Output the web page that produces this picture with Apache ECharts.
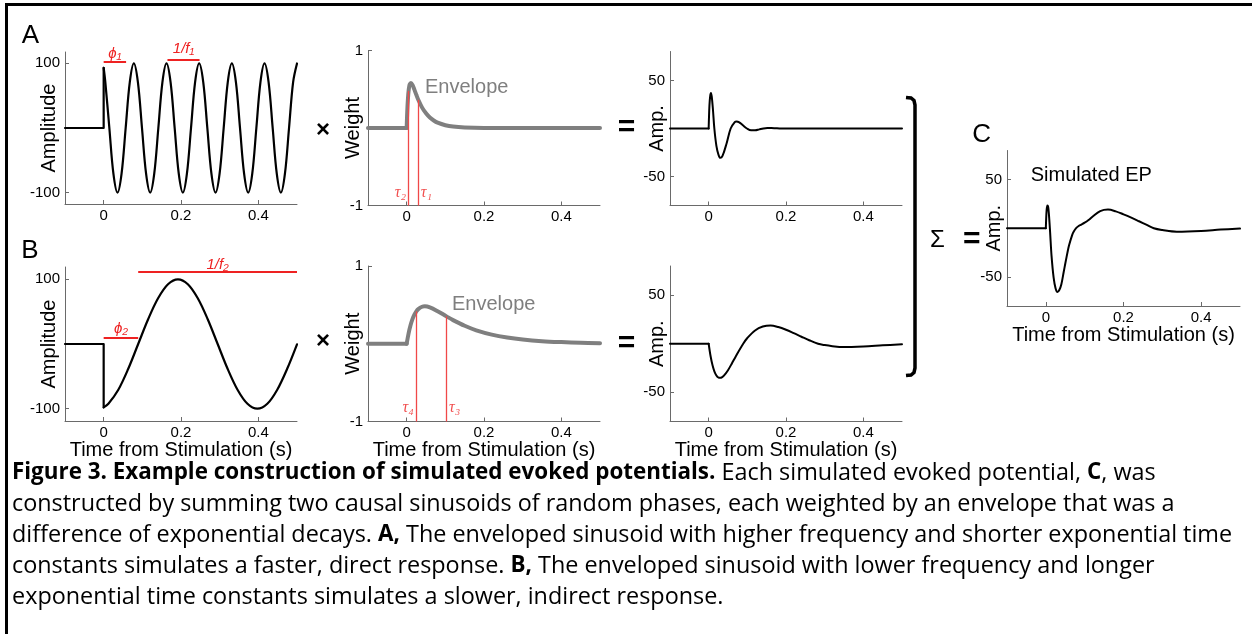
<!DOCTYPE html>
<html>
<head>
<meta charset="utf-8">
<style>
  html, body { margin: 0; padding: 0; background: #fff; }
  #chart { width: 1252px; height: 634px; }
</style>
<script src="https://cdn.jsdelivr.net/npm/echarts@6/dist/echarts.min.js"></script>
</head>
<body>
<div id="chart"></div>
<script>
// ---- values: [time (s), value] ----
const sineA = [[-0.1, 0], [0, 0], [0, 93], [0.0041, 72], [0.0147, 0], [0.0252, -70.7], [0.0358, -100],
  [0.0463, -70.7], [0.0569, 0], [0.0675, 70.7], [0.078, 100], [0.0886, 70.7], [0.0991, 0], [0.1097, -70.7],
  [0.1203, -100], [0.1308, -70.7], [0.1414, 0], [0.1519, 70.7], [0.1625, 100], [0.1731, 70.7], [0.1836, 0],
  [0.1942, -70.7], [0.2048, -100], [0.2153, -70.7], [0.2259, 0], [0.2364, 70.7], [0.247, 100], [0.2576, 70.7],
  [0.2681, 0], [0.2787, -70.7], [0.2893, -100], [0.2998, -70.7], [0.3104, 0], [0.3209, 70.7], [0.3315, 100],
  [0.3421, 70.7], [0.3526, 0], [0.3632, -70.7], [0.3738, -100], [0.3843, -70.7], [0.3949, 0], [0.4054, 70.7],
  [0.416, 100], [0.4266, 70.7], [0.4371, 0], [0.4477, -70.7], [0.4583, -100], [0.4688, -70.7], [0.4794, 0],
  [0.4899, 70.7], [0.5, 99.8]]
const envA = [[-0.1, 0], [0, 0], [0.002, 0.265], [0.004, 0.426], [0.005, 0.479], [0.006, 0.518], [0.008, 0.564],
  [0.011, 0.582], [0.015, 0.557], [0.02, 0.495], [0.025, 0.428], [0.03, 0.365], [0.04, 0.263], [0.05, 0.189],
  [0.06, 0.135], [0.07, 0.097], [0.08, 0.069], [0.1, 0.036], [0.12, 0.018], [0.15, 0.007], [0.2, 0.001],
  [0.3, 0], [0.5, 0]]
const prodA = [[-0.1, 0], [0, 0], [0.002, 24], [0.004, 34], [0.006, 37], [0.008, 33], [0.011, 20], [0.0147, 0],
  [0.02, -18], [0.0252, -27], [0.03, -30.5], [0.0358, -28.5], [0.0463, -15.5], [0.0569, 0], [0.0675, 6.6],
  [0.072, 7.2], [0.078, 6.7], [0.0886, 3.3], [0.0991, 0], [0.1097, -1.8], [0.1203, -1.8], [0.1308, -0.9],
  [0.1414, 0], [0.1519, 0.45], [0.1625, 0.44], [0.1731, 0.22], [0.1836, 0], [0.2048, -0.1], [0.25, 0], [0.5, 0]]

const sineB = [[-0.1, 0], [0, 0], [0, -97.9], [0.0122, -92.4], [0.0379, -70.7], [0.0636, -38.3], [0.0893, 0],
  [0.115, 38.3], [0.1407, 70.7], [0.1664, 92.4], [0.1921, 100], [0.2177, 92.4], [0.2434, 70.7], [0.2691, 38.3],
  [0.2948, 0], [0.3205, -38.3], [0.3462, -70.7], [0.3719, -92.4], [0.3975, -100], [0.4232, -92.4],
  [0.4489, -70.7], [0.4746, -38.3], [0.5, -0.5]]
const envB = [[-0.1, 0], [0, 0], [0.005, 0.134], [0.01, 0.237], [0.015, 0.316], [0.02, 0.374], [0.025, 0.417],
  [0.03, 0.446], [0.04, 0.476], [0.047, 0.481], [0.06, 0.468], [0.08, 0.419], [0.103, 0.352], [0.12, 0.304],
  [0.15, 0.231], [0.18, 0.173], [0.22, 0.118], [0.26, 0.08], [0.3, 0.054], [0.35, 0.033], [0.4, 0.021],
  [0.45, 0.013], [0.5, 0.008]]
const prodB = [[-0.1, 0], [0, 0], [0.005, -12.9], [0.01, -22.2], [0.015, -28.7], [0.02, -32.6], [0.025, -34.7],
  [0.03, -35.1], [0.035, -34.3], [0.04, -32.6], [0.05, -27.2], [0.06, -20.3], [0.07, -13], [0.0893, 0],
  [0.1, 5.9], [0.12, 13.7], [0.14, 17.7], [0.16, 18.8], [0.18, 17.2], [0.2, 14.4], [0.22, 10.9], [0.24, 7.2],
  [0.26, 3.6], [0.283, 0], [0.3, -1.4], [0.32, -2.5], [0.347, -3.4], [0.4, -2.8], [0.45, -1.6], [0.5, -0.5]]

const sumC = [[-0.1, 0], [0, 0], [0.002, 18.4], [0.004, 23.3], [0.006, 21.9], [0.008, 14], [0.011, -4],
  [0.0147, -28.5], [0.02, -50.6], [0.025, -61.7], [0.03, -65.6], [0.035, -63.3], [0.04, -57.6], [0.046, -45],
  [0.05, -36.5], [0.057, -22.4], [0.06, -17.2], [0.068, -6.8], [0.072, -3.4], [0.078, 0.1], [0.085, 2.4],
  [0.09, 3.5], [0.1, 5.7], [0.11, 8.5], [0.12, 11.9], [0.14, 17.6], [0.16, 19.2], [0.18, 17.4], [0.2, 14.3],
  [0.22, 10.9], [0.24, 7.2], [0.26, 3.4], [0.278, 0], [0.3, -1.8], [0.337, -3.5], [0.4, -2.8], [0.45, -1.4],
  [0.5, -0.3]]

// annotations (times in s)
const phaseA = [0, 0.058]
const periodA = [0.165, 0.248]
const phaseB = [0, 0.0893]
const periodB = [0.0893, 0.5]
const tauA = [0.005, 0.03]   // tau2, tau1
const tauB = [0.025, 0.103]  // tau4, tau3

const xTicks = [0, 0.2, 0.4]

const RED = '#ee2222'
const RED_THIN = '#f04848'
const GRAY = '#7f7f7f'
const AXIS = '#6a6a6a'
const FONT = 'Liberation Sans, Arial, Helvetica, sans-serif'

// pixel boxes of the seven small plots
const grids = [
  { left: 65, top: 52, width: 232, height: 152 },      // A amplitude
  { left: 368, top: 50.5, width: 232, height: 155 },   // A weight
  { left: 670, top: 51.5, width: 232, height: 154 },   // A amp.
  { left: 65, top: 267, width: 232, height: 154 },     // B amplitude
  { left: 368, top: 266, width: 232, height: 155.5 },  // B weight
  { left: 670, top: 266, width: 232, height: 155.5 },  // B amp.
  { left: 1007, top: 150.5, width: 233, height: 155.5 } // C
]

function xAxisFor(i, named) {
  return {
    type: 'value', gridIndex: i, min: -0.1, max: 0.5,
    axisLine: { show: true, onZero: false, lineStyle: { color: AXIS, width: 1 } },
    axisTick: { show: true, inside: true, length: 4, customValues: xTicks, lineStyle: { color: AXIS } },
    axisLabel: { show: true, customValues: xTicks, margin: 4, color: '#000', fontSize: 15, fontFamily: FONT },
    splitLine: { show: false },
    name: named ? 'Time from Stimulation (s)' : '',
    nameLocation: 'middle', nameGap: 19, nameMoveOverlap: false,
    nameTextStyle: { color: '#000', fontSize: 20, fontFamily: FONT }
  }
}

function yAxisFor(i, r, ticks, name, gap) {
  return {
    type: 'value', gridIndex: i, min: -r, max: r,
    axisLine: { show: true, onZero: false, lineStyle: { color: AXIS, width: 1 } },
    axisTick: { show: true, inside: true, length: 4, customValues: ticks, lineStyle: { color: AXIS } },
    axisLabel: { show: true, customValues: ticks, margin: 5, color: '#000', fontSize: 15, fontFamily: FONT },
    splitLine: { show: false },
    name: name, nameLocation: 'middle', nameRotate: 90, nameGap: gap, nameMoveOverlap: false,
    nameTextStyle: { color: '#000', fontSize: 20, fontFamily: FONT }
  }
}

// straight part up to the onset, smooth part after it
function curve(arr, gi, color, width, z) {
  let k = 0
  while (k + 1 < arr.length && arr[k + 1][0] <= 0) k++
  const base = {
    type: 'line', xAxisIndex: gi, yAxisIndex: gi, symbol: 'none', silent: true, z: z,
    lineStyle: { color: color, width: width, cap: 'round', join: 'round' }
  }
  return [
    Object.assign({}, base, { data: arr.slice(0, k + 1), smooth: false }),
    Object.assign({}, base, { data: arr.slice(k), smooth: 0.35 })
  ]
}

function at(arr, t) {
  const p = arr.find(d => d[0] === t)
  return p ? p[1] : 0
}

function bars(gi, items) {
  return {
    type: 'line', xAxisIndex: gi, yAxisIndex: gi, data: [], silent: true, z: 4,
    markLine: {
      silent: true, animation: false, symbol: ['none', 'none'],
      lineStyle: { color: RED, width: 2, type: 'solid' },
      label: { show: true, position: 'insideMiddleTop', distance: 2, color: RED,
        fontStyle: 'italic', fontFamily: FONT, fontSize: 15 },
      data: items.map(it => [
        { coord: [it.t[0], it.v], label: { formatter: it.text, distance: it.d } },
        { coord: [it.t[1], it.v] }
      ])
    }
  }
}

function taus(gi, env, t, names, v) {
  return {
    type: 'scatter', xAxisIndex: gi, yAxisIndex: gi, silent: true, z: 1, clip: false,
    symbolSize: 1, itemStyle: { color: 'rgba(0,0,0,0)' },
    label: { show: true, color: RED, fontFamily: 'Liberation Serif, Times New Roman, serif',
      fontStyle: 'italic', fontSize: 16, distance: 2 },
    data: [
      { value: [t[0], v], label: { position: 'left', formatter: names[0] } },
      { value: [t[1], v], label: { position: 'right', formatter: names[1] } }
    ],
    markLine: {
      silent: true, animation: false, symbol: ['none', 'none'],
      lineStyle: { color: RED_THIN, width: 1.3, type: 'solid' }, label: { show: false },
      data: t.map(tt => [{ coord: [tt, -1] }, { coord: [tt, at(env, tt)] }])
    }
  }
}

const series = [].concat(
  curve(sineA, 0, '#000', 2.2, 3),
  [bars(0, [{ t: phaseA, v: 102, text: 'ϕ₁', d: 1 }, { t: periodA, v: 105, text: '1/f₁', d: 4 }])],
  [taus(1, envA, tauA, ['τ₂', 'τ₁'], -0.84)],
  curve(envA, 1, GRAY, 4, 3),
  curve(prodA, 2, '#000', 2, 3),
  curve(sineB, 3, '#000', 2.2, 3),
  [bars(3, [{ t: phaseB, v: 10.4, text: 'ϕ₂', d: 1 }, { t: periodB, v: 111, text: '1/f₂', d: 0 }])],
  [taus(4, envB, tauB, ['τ₄', 'τ₃'], -0.82)],
  curve(envB, 4, GRAY, 4, 3),
  curve(prodB, 5, '#000', 2, 3),
  curve(sumC, 6, '#000', 2, 3)
)

function txt(x, y, text, size, opts) {
  return {
    type: 'text', x: x, y: y, silent: true,
    style: Object.assign({ text: text, fontSize: size, fontFamily: FONT, fill: '#000',
      align: 'center', verticalAlign: 'middle' }, opts || {})
  }
}

const CAP = 'Open Sans, Noto Sans, sans-serif'
const CAP_SIZE = 23.4
const capRich = { b: { fontWeight: 'bold', fontFamily: CAP, fontSize: 22.4, fill: '#000' } }
const captionLines = [
  '{b|Figure 3. Example construction of simulated evoked potentials.} Each simulated evoked potential, {b|C}, was',
  'constructed by summing two causal sinusoids of random phases, each weighted by an envelope that was a',
  'difference of exponential decays. {b|A,} The enveloped sinusoid with higher frequency and shorter exponential time',
  'constants simulates a faster, direct response. {b|B,} The enveloped sinusoid with lower frequency and longer',
  'exponential time constants simulates a slower, indirect response.'
]

const graphic = [
  { type: 'line', silent: true, shape: { x1: 5, y1: 4.5, x2: 1252, y2: 4.5 }, style: { stroke: '#000', lineWidth: 3 } },
  { type: 'line', silent: true, shape: { x1: 6.5, y1: 3, x2: 6.5, y2: 634 }, style: { stroke: '#000', lineWidth: 3 } },
  { type: 'polyline', silent: true,
    shape: { points: [[906, 97.5], [911, 98], [914, 100.5], [915, 105], [915, 368], [914, 372.5], [911, 375], [906, 375.5]] },
    style: { stroke: '#000', lineWidth: 3.5, fill: null } },
  txt(30.5, 36, 'A', 26),
  txt(30, 250.5, 'B', 26),
  txt(981.7, 135, 'C', 26),
  txt(323, 130.5, '×', 24, { fontWeight: 'bold' }),
  txt(323, 341, '×', 24, { fontWeight: 'bold' }),
  txt(626.5, 127.5, '=', 30, { fontWeight: 'bold' }),
  txt(626.5, 343.5, '=', 30, { fontWeight: 'bold' }),
  txt(937.5, 240, 'Σ', 24),
  txt(971.7, 240, '=', 30, { fontWeight: 'bold' }),
  txt(425, 87, 'Envelope', 20, { align: 'left', fill: GRAY }),
  txt(452, 304, 'Envelope', 20, { align: 'left', fill: GRAY }),
  txt(1030.7, 175, 'Simulated EP', 20, { align: 'left' })
].concat(captionLines.map((line, i) => ({
  type: 'text', x: 12, y: 473 + i * 31, silent: true,
  style: { text: line, fontSize: CAP_SIZE, fontFamily: CAP, fill: '#000', align: 'left', verticalAlign: 'middle', rich: capRich }
})))

const chart = echarts.init(document.getElementById('chart'))
chart.setOption({
  animation: false,
  backgroundColor: '#fff',
  textStyle: { fontFamily: FONT },
  grid: grids.map(g => Object.assign({ containLabel: false, outerBoundsMode: 'none' }, g)),
  xAxis: [xAxisFor(0, false), xAxisFor(1, false), xAxisFor(2, false),
    xAxisFor(3, true), xAxisFor(4, true), xAxisFor(5, true), xAxisFor(6, true)],
  yAxis: [
    yAxisFor(0, 117.5, [-100, 100], 'Amplitude', 6),
    yAxisFor(1, 1, [-1, 1], 'Weight', 5),
    yAxisFor(2, 80, [-50, 50], 'Amp.', 3),
    yAxisFor(3, 119, [-100, 100], 'Amplitude', 6),
    yAxisFor(4, 1, [-1, 1], 'Weight', 5),
    yAxisFor(5, 80, [-50, 50], 'Amp.', 3),
    yAxisFor(6, 80, [-50, 50], 'Amp.', 3)
  ],
  series: series,
  graphic: graphic
})
</script>
</body>
</html>
